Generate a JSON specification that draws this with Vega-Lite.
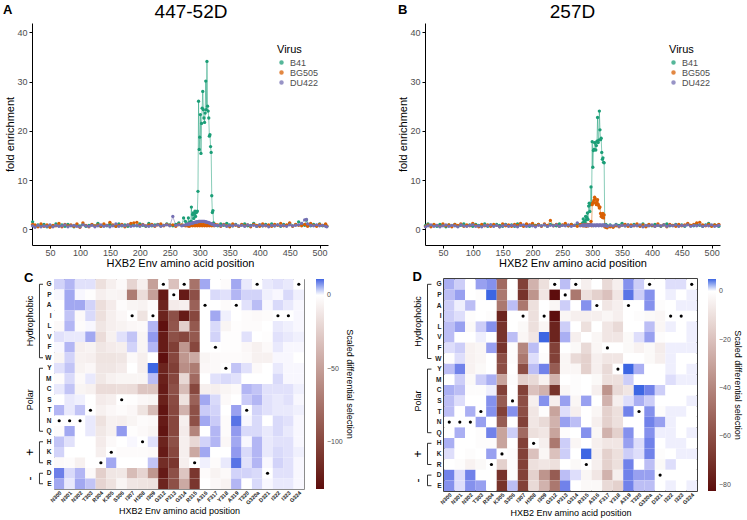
{
"$schema":"https://vega.github.io/schema/vega-lite/v6.json",
"padding":{"left":2,"top":3,"right":0,"bottom":0},
"background":"white",
"config":{"font":"Liberation Sans","view":{"stroke":null},"axis":{"grid":false,"domainColor":"black","tickColor":"black","labelColor":"#4d4d4d","titleColor":"black","titleFontWeight":"normal"}},
"datasets":{
"a":[
{"p":21,"B41":1.5,"BG505":1.0,"DU422":0.7},{"p":25,"B41":0.6,"BG505":0.9,"DU422":0.4},{"p":30,"B41":0.9,"BG505":0.5,"DU422":0.8},{"p":35,"B41":0.7,"BG505":1.1,"DU422":0.5},{"p":40,"B41":1.0,"BG505":0.6,"DU422":0.7},{"p":45,"B41":0.5,"BG505":0.9,"DU422":0.6},{"p":50,"B41":0.8,"BG505":0.4,"DU422":0.9},{"p":55,"B41":0.6,"BG505":0.8,"DU422":0.5},{"p":60,"B41":1.1,"BG505":0.7,"DU422":0.8},{"p":65,"B41":0.7,"BG505":1.2,"DU422":0.6},{"p":70,"B41":0.9,"BG505":0.5,"DU422":0.7},{"p":75,"B41":0.6,"BG505":1.0,"DU422":0.9},{"p":80,"B41":1.0,"BG505":0.7,"DU422":0.5},{"p":85,"B41":0.8,"BG505":0.9,"DU422":0.7},{"p":90,"B41":0.5,"BG505":0.6,"DU422":0.8},{"p":95,"B41":0.9,"BG505":1.1,"DU422":0.6},{"p":100,"B41":0.7,"BG505":0.4,"DU422":0.5},{"p":105,"B41":1.0,"BG505":1.3,"DU422":0.9},{"p":110,"B41":0.6,"BG505":0.8,"DU422":0.7},{"p":115,"B41":0.8,"BG505":0.5,"DU422":0.6},{"p":120,"B41":0.9,"BG505":1.0,"DU422":0.8},{"p":125,"B41":0.7,"BG505":0.7,"DU422":0.5},{"p":130,"B41":1.2,"BG505":0.9,"DU422":0.7},{"p":135,"B41":0.6,"BG505":0.6,"DU422":0.9},{"p":140,"B41":0.9,"BG505":1.1,"DU422":0.6},{"p":145,"B41":0.7,"BG505":0.8,"DU422":0.8},{"p":150,"B41":1.0,"BG505":1.4,"DU422":0.5},{"p":155,"B41":0.8,"BG505":0.9,"DU422":0.7},{"p":160,"B41":0.6,"BG505":0.6,"DU422":1.1},{"p":165,"B41":1.1,"BG505":0.8,"DU422":0.6},{"p":170,"B41":0.7,"BG505":1.0,"DU422":0.8},{"p":175,"B41":0.9,"BG505":0.5,"DU422":0.7},{"p":180,"B41":0.6,"BG505":0.9,"DU422":0.9},{"p":185,"B41":1.0,"BG505":1.2,"DU422":0.6},{"p":190,"B41":0.8,"BG505":1.3,"DU422":0.7},{"p":195,"B41":0.7,"BG505":1.4,"DU422":0.8},{"p":200,"B41":1.1,"BG505":0.8,"DU422":0.6},{"p":205,"B41":0.8,"BG505":1.0,"DU422":0.9},{"p":210,"B41":0.6,"BG505":0.7,"DU422":0.7},{"p":215,"B41":1.2,"BG505":0.9,"DU422":0.6},{"p":220,"B41":0.7,"BG505":1.0,"DU422":0.8},{"p":225,"B41":0.9,"BG505":0.6,"DU422":0.7},{"p":230,"B41":1.0,"BG505":0.9,"DU422":0.9},{"p":235,"B41":0.7,"BG505":1.1,"DU422":0.6},{"p":240,"B41":0.8,"BG505":0.7,"DU422":0.8},{"p":245,"B41":1.1,"BG505":1.0,"DU422":0.9},{"p":250,"B41":0.9,"BG505":0.8,"DU422":0.7},{"p":255,"B41":0.7,"BG505":0.9,"DU422":2.6},{"p":260,"B41":1.0,"BG505":0.6,"DU422":0.8},{"p":265,"B41":1.3,"BG505":1.0,"DU422":0.9},{"p":270,"B41":0.8,"BG505":0.9,"DU422":0.7},{"p":273,"B41":2.3,"BG505":0.8,"DU422":0.8},{"p":276,"B41":1.6,"BG505":0.7,"DU422":0.9},
{"p":278,"B41":1.1,"BG505":0.9,"DU422":0.9},{"p":279,"B41":0.9,"BG505":0.7,"DU422":1.0},{"p":280,"B41":1.0,"BG505":1.0,"DU422":1.0},{"p":281,"B41":2.3,"BG505":0.8,"DU422":1.0},{"p":282,"B41":1.2,"BG505":0.6,"DU422":1.1},{"p":283,"B41":1.4,"BG505":0.9,"DU422":1.1},{"p":284,"B41":1.0,"BG505":0.7,"DU422":1.1},{"p":285,"B41":1.6,"BG505":1.0,"DU422":1.2},{"p":286,"B41":4.5,"BG505":0.8,"DU422":1.2},{"p":287,"B41":1.4,"BG505":0.9,"DU422":1.2},{"p":288,"B41":3.0,"BG505":0.7,"DU422":1.3},{"p":289,"B41":3.3,"BG505":1.0,"DU422":1.3},{"p":290,"B41":2.2,"BG505":0.8,"DU422":1.3},{"p":291,"B41":3.1,"BG505":0.9,"DU422":1.4},{"p":292,"B41":3.7,"BG505":0.7,"DU422":1.4},{"p":293,"B41":2.6,"BG505":1.0,"DU422":1.4},{"p":294,"B41":3.4,"BG505":0.8,"DU422":1.5},{"p":295,"B41":3.5,"BG505":0.9,"DU422":1.5},{"p":296,"B41":3.7,"BG505":0.7,"DU422":1.5},{"p":297,"B41":7.7,"BG505":0.8,"DU422":1.5},{"p":298,"B41":26.0,"BG505":1.0,"DU422":1.6},{"p":299,"B41":16.2,"BG505":0.9,"DU422":1.6},{"p":300,"B41":18.7,"BG505":0.7,"DU422":1.6},{"p":301,"B41":23.3,"BG505":0.8,"DU422":1.6},{"p":302,"B41":15.4,"BG505":1.0,"DU422":1.6},{"p":303,"B41":21.5,"BG505":0.9,"DU422":1.6},{"p":304,"B41":24.6,"BG505":0.7,"DU422":1.6},{"p":305,"B41":28.0,"BG505":0.8,"DU422":1.6},{"p":306,"B41":24.3,"BG505":1.0,"DU422":1.6},{"p":307,"B41":22.6,"BG505":0.9,"DU422":1.6},{"p":308,"B41":21.7,"BG505":0.7,"DU422":1.6},{"p":309,"B41":23.6,"BG505":0.8,"DU422":1.5},{"p":310,"B41":30.1,"BG505":1.0,"DU422":1.5},{"p":311,"B41":24.3,"BG505":0.9,"DU422":1.5},{"p":312,"B41":34.1,"BG505":0.7,"DU422":1.4},{"p":313,"B41":25.0,"BG505":0.8,"DU422":1.4},{"p":314,"B41":24.0,"BG505":1.0,"DU422":1.4},{"p":315,"B41":22.6,"BG505":0.9,"DU422":1.3},{"p":316,"B41":18.9,"BG505":0.7,"DU422":1.3},{"p":317,"B41":19.2,"BG505":0.8,"DU422":1.2},{"p":318,"B41":16.8,"BG505":1.0,"DU422":1.2},{"p":319,"B41":15.6,"BG505":0.9,"DU422":1.1},{"p":320,"B41":6.8,"BG505":0.7,"DU422":1.1},{"p":321,"B41":3.4,"BG505":0.8,"DU422":1.0},{"p":322,"B41":3.8,"BG505":1.0,"DU422":1.0},{"p":323,"B41":1.3,"BG505":0.9,"DU422":0.9},{"p":324,"B41":0.9,"BG505":0.7,"DU422":0.9},{"p":325,"B41":1.0,"BG505":0.8,"DU422":0.8},{"p":326,"B41":0.8,"BG505":1.0,"DU422":0.8},
{"p":330,"B41":0.7,"BG505":0.9,"DU422":0.8},{"p":335,"B41":1.1,"BG505":0.6,"DU422":0.7},{"p":340,"B41":0.8,"BG505":1.0,"DU422":0.9},{"p":345,"B41":1.2,"BG505":0.7,"DU422":0.6},{"p":350,"B41":0.9,"BG505":0.5,"DU422":0.8},{"p":355,"B41":0.7,"BG505":1.1,"DU422":0.7},{"p":360,"B41":1.0,"BG505":0.8,"DU422":0.9},{"p":365,"B41":0.6,"BG505":0.6,"DU422":0.7},{"p":370,"B41":0.9,"BG505":1.0,"DU422":0.8},{"p":375,"B41":1.1,"BG505":0.7,"DU422":0.6},{"p":380,"B41":0.7,"BG505":0.9,"DU422":0.9},{"p":385,"B41":0.8,"BG505":0.5,"DU422":0.7},{"p":390,"B41":1.2,"BG505":1.0,"DU422":0.8},{"p":395,"B41":0.6,"BG505":0.8,"DU422":0.6},{"p":400,"B41":0.9,"BG505":0.6,"DU422":0.9},{"p":405,"B41":0.7,"BG505":1.1,"DU422":0.7},{"p":410,"B41":1.0,"BG505":0.7,"DU422":0.8},{"p":415,"B41":0.8,"BG505":0.9,"DU422":0.5},{"p":420,"B41":1.1,"BG505":0.6,"DU422":0.8},{"p":425,"B41":0.7,"BG505":1.0,"DU422":0.7},{"p":430,"B41":0.9,"BG505":0.8,"DU422":0.9},{"p":435,"B41":0.6,"BG505":1.2,"DU422":0.7},{"p":440,"B41":1.0,"BG505":0.7,"DU422":0.8},{"p":445,"B41":0.8,"BG505":0.9,"DU422":0.6},{"p":450,"B41":1.2,"BG505":1.3,"DU422":0.9},{"p":455,"B41":0.7,"BG505":0.6,"DU422":0.7},{"p":460,"B41":0.9,"BG505":1.0,"DU422":0.8},{"p":465,"B41":1.5,"BG505":0.8,"DU422":0.9},{"p":470,"B41":1.1,"BG505":0.7,"DU422":1.2},{"p":475,"B41":0.8,"BG505":1.0,"DU422":1.9},{"p":478,"B41":1.9,"BG505":0.9,"DU422":2.0},{"p":480,"B41":0.9,"BG505":0.6,"DU422":1.1},{"p":485,"B41":0.7,"BG505":1.2,"DU422":0.8},{"p":490,"B41":1.0,"BG505":0.8,"DU422":0.7},{"p":495,"B41":0.8,"BG505":0.6,"DU422":0.9},{"p":500,"B41":1.1,"BG505":1.0,"DU422":0.7},{"p":505,"B41":0.7,"BG505":0.8,"DU422":0.8},{"p":510,"B41":0.9,"BG505":1.1,"DU422":0.6},{"p":512,"B41":0.6,"BG505":0.7,"DU422":0.5}
],
"b":[
{"p":21,"B41":0.8,"BG505":0.6,"DU422":0.5},{"p":25,"B41":1.1,"BG505":0.9,"DU422":0.7},{"p":30,"B41":0.7,"BG505":0.5,"DU422":0.9},{"p":35,"B41":0.9,"BG505":1.0,"DU422":0.6},{"p":40,"B41":0.6,"BG505":0.8,"DU422":0.8},{"p":45,"B41":1.0,"BG505":0.6,"DU422":0.5},{"p":50,"B41":0.8,"BG505":1.1,"DU422":0.7},{"p":55,"B41":0.5,"BG505":0.7,"DU422":0.9},{"p":60,"B41":0.9,"BG505":0.9,"DU422":0.6},{"p":65,"B41":0.7,"BG505":0.5,"DU422":0.8},{"p":70,"B41":1.0,"BG505":1.0,"DU422":0.7},{"p":75,"B41":0.6,"BG505":0.8,"DU422":0.5},{"p":80,"B41":0.8,"BG505":1.1,"DU422":0.9},{"p":85,"B41":1.1,"BG505":0.6,"DU422":0.7},{"p":90,"B41":0.7,"BG505":0.9,"DU422":0.6},{"p":95,"B41":0.9,"BG505":0.7,"DU422":0.8},{"p":100,"B41":0.6,"BG505":1.2,"DU422":0.9},{"p":105,"B41":1.0,"BG505":0.8,"DU422":0.6},{"p":110,"B41":0.8,"BG505":0.5,"DU422":0.7},{"p":115,"B41":0.7,"BG505":1.0,"DU422":0.5},{"p":120,"B41":1.1,"BG505":0.7,"DU422":0.8},{"p":125,"B41":0.6,"BG505":0.9,"DU422":0.7},{"p":130,"B41":0.9,"BG505":0.6,"DU422":0.9},{"p":135,"B41":0.7,"BG505":1.0,"DU422":0.6},{"p":140,"B41":1.0,"BG505":0.8,"DU422":0.8},{"p":145,"B41":0.8,"BG505":0.5,"DU422":0.5},{"p":150,"B41":0.6,"BG505":1.1,"DU422":0.7},{"p":155,"B41":1.0,"BG505":0.7,"DU422":0.9},{"p":160,"B41":0.7,"BG505":0.9,"DU422":0.6},{"p":165,"B41":0.9,"BG505":0.6,"DU422":0.8},{"p":170,"B41":0.6,"BG505":1.0,"DU422":0.7},{"p":175,"B41":1.1,"BG505":0.8,"DU422":0.5},{"p":180,"B41":0.8,"BG505":1.2,"DU422":0.8},{"p":185,"B41":0.7,"BG505":0.6,"DU422":0.9},{"p":190,"B41":1.0,"BG505":1.1,"DU422":0.6},{"p":195,"B41":0.6,"BG505":0.9,"DU422":0.8},{"p":200,"B41":0.9,"BG505":1.2,"DU422":0.7},{"p":205,"B41":0.8,"BG505":0.7,"DU422":0.5},{"p":210,"B41":1.0,"BG505":1.0,"DU422":0.8},{"p":215,"B41":0.7,"BG505":0.6,"DU422":0.7},{"p":220,"B41":0.9,"BG505":1.1,"DU422":0.9},{"p":225,"B41":0.6,"BG505":0.8,"DU422":0.6},{"p":230,"B41":1.0,"BG505":1.8,"DU422":0.8},{"p":235,"B41":0.8,"BG505":0.7,"DU422":0.7},{"p":240,"B41":0.7,"BG505":1.0,"DU422":0.9},{"p":245,"B41":1.1,"BG505":0.6,"DU422":0.6},{"p":250,"B41":0.8,"BG505":0.9,"DU422":0.8},{"p":255,"B41":0.9,"BG505":1.2,"DU422":0.7},{"p":260,"B41":0.7,"BG505":0.7,"DU422":0.9},{"p":265,"B41":1.0,"BG505":1.0,"DU422":0.6},{"p":270,"B41":0.8,"BG505":0.8,"DU422":0.8},{"p":275,"B41":1.1,"BG505":0.6,"DU422":1.3},{"p":280,"B41":0.9,"BG505":1.0,"DU422":0.7},
{"p":283,"B41":1.0,"BG505":0.9,"DU422":0.8},{"p":284,"B41":1.3,"BG505":0.7,"DU422":0.9},{"p":285,"B41":2.1,"BG505":0.9,"DU422":0.8},{"p":286,"B41":1.2,"BG505":0.7,"DU422":0.9},{"p":287,"B41":1.6,"BG505":1.0,"DU422":0.7},{"p":288,"B41":1.4,"BG505":0.8,"DU422":0.8},{"p":289,"B41":2.6,"BG505":0.9,"DU422":0.9},{"p":290,"B41":1.9,"BG505":0.6,"DU422":0.7},{"p":291,"B41":2.4,"BG505":0.8,"DU422":0.8},{"p":292,"B41":3.3,"BG505":1.0,"DU422":0.9},{"p":293,"B41":2.0,"BG505":0.7,"DU422":0.8},{"p":294,"B41":4.7,"BG505":0.9,"DU422":0.7},{"p":295,"B41":5.3,"BG505":0.8,"DU422":0.9},{"p":296,"B41":3.6,"BG505":1.0,"DU422":0.8},{"p":297,"B41":5.0,"BG505":0.9,"DU422":0.9},{"p":298,"B41":8.6,"BG505":1.6,"DU422":0.8},{"p":299,"B41":5.2,"BG505":0.7,"DU422":0.9},{"p":300,"B41":17.8,"BG505":5.0,"DU422":0.8},{"p":301,"B41":12.6,"BG505":5.3,"DU422":0.9},{"p":302,"B41":16.0,"BG505":5.5,"DU422":0.7},{"p":303,"B41":16.2,"BG505":5.9,"DU422":0.8},{"p":304,"B41":17.6,"BG505":6.5,"DU422":0.9},{"p":305,"B41":17.5,"BG505":6.2,"DU422":0.8},{"p":306,"B41":16.1,"BG505":5.3,"DU422":0.7},{"p":307,"B41":17.0,"BG505":5.0,"DU422":0.9},{"p":308,"B41":17.9,"BG505":5.6,"DU422":0.8},{"p":309,"B41":22.7,"BG505":6.0,"DU422":0.9},{"p":310,"B41":17.6,"BG505":5.1,"DU422":0.8},{"p":311,"B41":18.1,"BG505":4.7,"DU422":0.7},{"p":312,"B41":24.0,"BG505":4.3,"DU422":0.9},{"p":313,"B41":20.2,"BG505":4.5,"DU422":0.8},{"p":314,"B41":18.2,"BG505":3.2,"DU422":0.9},{"p":315,"B41":18.5,"BG505":2.6,"DU422":0.8},{"p":316,"B41":15.6,"BG505":2.9,"DU422":0.7},{"p":317,"B41":14.2,"BG505":2.4,"DU422":0.9},{"p":318,"B41":14.5,"BG505":3.2,"DU422":0.8},{"p":319,"B41":13.6,"BG505":2.3,"DU422":0.9},{"p":320,"B41":13.5,"BG505":2.9,"DU422":0.8},{"p":321,"B41":0.9,"BG505":0.5,"DU422":0.7},{"p":322,"B41":0.8,"BG505":0.7,"DU422":0.9},{"p":323,"B41":1.0,"BG505":0.4,"DU422":0.8},
{"p":325,"B41":0.7,"BG505":0.3,"DU422":0.6},{"p":330,"B41":0.9,"BG505":0.5,"DU422":0.8},{"p":335,"B41":0.6,"BG505":0.4,"DU422":0.7},{"p":340,"B41":1.0,"BG505":0.7,"DU422":0.9},{"p":345,"B41":0.8,"BG505":0.5,"DU422":0.6},{"p":350,"B41":1.2,"BG505":0.8,"DU422":0.8},{"p":355,"B41":0.7,"BG505":1.0,"DU422":0.7},{"p":360,"B41":0.9,"BG505":0.6,"DU422":0.9},{"p":365,"B41":0.6,"BG505":0.9,"DU422":0.6},{"p":370,"B41":1.0,"BG505":0.7,"DU422":0.8},{"p":375,"B41":0.8,"BG505":1.1,"DU422":0.7},{"p":380,"B41":0.7,"BG505":0.6,"DU422":0.9},{"p":385,"B41":1.1,"BG505":0.9,"DU422":0.5},{"p":390,"B41":0.6,"BG505":0.5,"DU422":0.8},{"p":395,"B41":0.9,"BG505":1.0,"DU422":0.7},{"p":400,"B41":0.7,"BG505":0.8,"DU422":0.9},{"p":405,"B41":1.0,"BG505":0.6,"DU422":0.6},{"p":410,"B41":0.8,"BG505":1.1,"DU422":0.8},{"p":415,"B41":0.6,"BG505":0.7,"DU422":0.7},{"p":420,"B41":0.9,"BG505":0.9,"DU422":0.9},{"p":425,"B41":1.1,"BG505":0.5,"DU422":0.6},{"p":430,"B41":0.7,"BG505":1.0,"DU422":0.8},{"p":435,"B41":0.8,"BG505":0.8,"DU422":0.7},{"p":440,"B41":1.0,"BG505":0.6,"DU422":0.9},{"p":445,"B41":0.7,"BG505":1.0,"DU422":0.6},{"p":450,"B41":0.9,"BG505":0.7,"DU422":0.8},{"p":455,"B41":0.6,"BG505":0.9,"DU422":0.7},{"p":460,"B41":1.0,"BG505":1.2,"DU422":0.9},{"p":465,"B41":0.8,"BG505":0.8,"DU422":0.6},{"p":470,"B41":0.7,"BG505":1.0,"DU422":0.8},{"p":475,"B41":1.1,"BG505":1.3,"DU422":0.7},{"p":480,"B41":0.8,"BG505":1.4,"DU422":0.9},{"p":485,"B41":0.6,"BG505":0.9,"DU422":0.6},{"p":490,"B41":0.9,"BG505":0.7,"DU422":0.8},{"p":495,"B41":1.2,"BG505":1.0,"DU422":0.7},{"p":500,"B41":0.7,"BG505":0.6,"DU422":0.9},{"p":505,"B41":0.9,"BG505":0.9,"DU422":0.6},{"p":510,"B41":0.8,"BG505":0.8,"DU422":0.7},{"p":512,"B41":0.6,"BG505":1.0,"DU422":0.8}
],
"hc":[
{"site":"N300","wt":"N","G":3,"P":0.5,"A":0,"I":0,"L":-3,"V":2,"F":0.5,"W":-5,"Y":2,"M":-2,"C":1.5,"S":0,"T":5,"N":0,"Q":-2,"H":4,"K":3,"R":-3,"D":9,"E":6},
{"site":"N301","wt":"N","G":5,"P":6,"A":6,"I":4,"L":5,"V":1.5,"F":5,"W":3,"Y":4,"M":2.5,"C":4,"S":1.5,"T":1.5,"N":0,"Q":6,"H":2,"K":0,"R":-2,"D":2.5,"E":1.5},
{"site":"N302","wt":"N","G":2,"P":0.5,"A":6,"I":-3,"L":-2,"V":1.5,"F":-8,"W":-7,"Y":-6,"M":-3,"C":-5,"S":1,"T":4,"N":0,"Q":0,"H":0,"K":0,"R":-7,"D":5,"E":6},
{"site":"T303","wt":"T","G":2,"P":-1,"A":3,"I":2.5,"L":0.5,"V":6,"F":-6,"W":-8,"Y":-4,"M":1.5,"C":-7,"S":0,"T":0,"N":1.5,"Q":1.5,"H":0,"K":0,"R":0,"D":-3,"E":4},
{"site":"R304","wt":"R","G":-16,"P":-8,"A":-17,"I":-16,"L":-13,"V":-18,"F":-13,"W":-14,"Y":-13,"M":-12,"C":-18,"S":-10,"T":-7,"N":-15,"Q":-12,"H":-10,"K":-8,"R":0,"D":-25,"E":-22},
{"site":"K305","wt":"K","G":-8,"P":-5,"A":-10,"I":-8,"L":-8,"V":-7,"F":-10,"W":-14,"Y":-13,"M":-7,"C":-18,"S":-8,"T":-4,"N":-7,"Q":-7,"H":-3,"K":0,"R":6,"D":-13,"E":-15},
{"site":"S306","wt":"S","G":-3,"P":-6,"A":-2,"I":-4,"L":-6,"V":2,"F":-8,"W":-13,"Y":-10,"M":-5,"C":-17,"S":0,"T":-2,"N":-8,"Q":7,"H":0,"K":-2,"R":0,"D":-12,"E":-5},
{"site":"I307","wt":"I","G":-22,"P":-70,"A":-5,"I":0,"L":-4,"V":4,"F":3,"W":-3,"Y":0,"M":-5,"C":-18,"S":-1,"T":-4,"N":-5,"Q":-1,"H":0.5,"K":-2,"R":0,"D":-35,"E":-13},
{"site":"H308","wt":"H","G":-8,"P":-18,"A":-6,"I":-14,"L":-3,"V":-5,"F":-5,"W":-8,"Y":-8,"M":-5,"C":-30,"S":-4,"T":-14,"N":-2,"Q":-3,"H":0,"K":-2,"R":0,"D":-22,"E":-14},
{"site":"I309","wt":"I","G":-50,"P":-50,"A":-2,"I":0,"L":5,"V":7,"F":5,"W":0,"Y":11,"M":4.5,"C":-30,"S":-5,"T":-35,"N":-3,"Q":-5,"H":2,"K":-3,"R":4,"D":-55,"E":-15},
{"site":"G312","wt":"G","G":0,"P":-125,"A":-120,"I":-120,"L":-130,"V":-125,"F":-125,"W":-130,"Y":-120,"M":-122,"C":-125,"S":-122,"T":-128,"N":-125,"Q":-128,"H":-120,"K":-125,"R":-115,"D":-125,"E":-120},
{"site":"P313","wt":"P","G":-32,"P":0,"A":-10,"I":-95,"L":-92,"V":-95,"F":-105,"W":-100,"Y":-105,"M":-100,"C":-95,"S":-98,"T":-100,"N":-100,"Q":-100,"H":-95,"K":-100,"R":-110,"D":-95,"E":-95},
{"site":"G314","wt":"G","G":0,"P":-125,"A":-8,"I":-125,"L":-25,"V":-100,"F":-55,"W":-55,"Y":-60,"M":-20,"C":-35,"S":-15,"T":-40,"N":-8,"Q":-10,"H":-8,"K":-8,"R":-8,"D":-30,"E":-45},
{"site":"R315","wt":"R","G":-75,"P":-95,"A":-85,"I":-100,"L":-90,"V":-90,"F":-100,"W":-45,"Y":-70,"M":-80,"C":-100,"S":-85,"T":-95,"N":-95,"Q":-65,"H":-20,"K":-45,"R":0,"D":-110,"E":-110},
{"site":"A316","wt":"A","G":6,"P":0,"A":0,"I":0,"L":0,"V":0,"F":0,"W":-5,"Y":-4,"M":0,"C":-8,"S":6,"T":3.5,"N":6,"Q":0,"H":3,"K":6,"R":1,"D":-2,"E":0},
{"site":"F317","wt":"F","G":0,"P":2.5,"A":0,"I":6,"L":2.5,"V":3,"F":0,"W":-3,"Y":-3,"M":2,"C":-8,"S":2.5,"T":3,"N":3.5,"Q":5,"H":5,"K":0,"R":-2,"D":-6,"E":-4},
{"site":"Y318","wt":"Y","G":-2,"P":2,"A":-2,"I":1,"L":-5,"V":-1,"F":-1,"W":-2,"Y":0,"M":2.5,"C":-5,"S":-3,"T":0,"N":-2,"Q":-2,"H":-4,"K":0,"R":1.5,"D":-3,"E":-6},
{"site":"A319","wt":"A","G":6,"P":5,"A":0,"I":0,"L":-1,"V":-1,"F":-1,"W":-2,"Y":4,"M":2,"C":-3,"S":0,"T":6.5,"N":10,"Q":7,"H":6,"K":7,"R":10,"D":3,"E":5},
{"site":"T320","wt":"T","G":1.5,"P":3,"A":2,"I":-2,"L":-2,"V":2,"F":-4,"W":-3,"Y":2,"M":0,"C":5,"S":3.5,"T":0,"N":0.5,"Q":2.5,"H":0.5,"K":2.5,"R":2,"D":3,"E":0},
{"site":"G320a","wt":"G","G":0,"P":3,"A":4.5,"I":-3,"L":-2,"V":0,"F":-7,"W":-7,"Y":-3,"M":0,"C":4,"S":5,"T":3,"N":2.5,"Q":2.5,"H":5,"K":5,"R":5,"D":2.5,"E":2.5},
{"site":"D321","wt":"D","G":1.5,"P":1,"A":0.5,"I":-2,"L":0,"V":-1,"F":-3,"W":-7,"Y":0,"M":0,"C":2,"S":2,"T":2,"N":0,"Q":1.5,"H":1.5,"K":1.5,"R":0.5,"D":0,"E":0.5},
{"site":"I322","wt":"I","G":2,"P":0.5,"A":2.5,"I":0,"L":1.5,"V":2,"F":1.5,"W":0.5,"Y":1.5,"M":2.5,"C":2,"S":1.5,"T":1.5,"N":2.5,"Q":2.5,"H":2,"K":2.5,"R":3,"D":2,"E":1.5},
{"site":"I323","wt":"I","G":1.5,"P":2.5,"A":1.5,"I":0,"L":1,"V":1.5,"F":0.5,"W":0.5,"Y":0.5,"M":0.5,"C":2,"S":2,"T":1.5,"N":2,"Q":1.5,"H":2,"K":2,"R":2,"D":2,"E":1.5},
{"site":"G324","wt":"G","G":0,"P":1,"A":0.5,"I":0.5,"L":0.5,"V":1,"F":0.5,"W":0,"Y":0.5,"M":0.5,"C":1,"S":0.5,"T":1,"N":0.5,"Q":0.5,"H":0.5,"K":1,"R":0.5,"D":0.5,"E":0.5}
],
"hd":[
{"site":"N300","wt":"N","G":2.5,"P":2,"A":1.5,"I":1.5,"L":2,"V":2,"F":1,"W":-0.5,"Y":2,"M":0,"C":2.5,"S":2,"T":2,"N":0,"Q":0,"H":2.5,"K":1,"R":0,"D":4,"E":3.5},
{"site":"N301","wt":"N","G":1.5,"P":3,"A":0.5,"I":1,"L":3,"V":0,"F":1.5,"W":1,"Y":4,"M":1.5,"C":2,"S":1,"T":0,"N":0,"Q":2.5,"H":0,"K":0,"R":-1,"D":1,"E":1},
{"site":"N302","wt":"N","G":0,"P":0,"A":2,"I":-1,"L":-2,"V":0,"F":-4,"W":-4,"Y":-4,"M":-2,"C":-1,"S":0,"T":2.5,"N":0,"Q":0,"H":0,"K":-1,"R":-4,"D":4,"E":3.5},
{"site":"T303","wt":"T","G":3,"P":-1,"A":0,"I":0,"L":1.5,"V":0.5,"F":-3,"W":-3,"Y":-2,"M":1.5,"C":-1,"S":0,"T":0,"N":3,"Q":-1,"H":-1,"K":0,"R":-2,"D":0,"E":3},
{"site":"R304","wt":"R","G":3.5,"P":5,"A":0,"I":-1,"L":3.5,"V":0,"F":3,"W":0,"Y":0,"M":2.5,"C":0.5,"S":3.5,"T":3.5,"N":0,"Q":4,"H":-1,"K":3,"R":0,"D":0,"E":0},
{"site":"K305","wt":"K","G":-50,"P":-45,"A":-45,"I":-75,"L":-70,"V":-70,"F":-70,"W":-60,"Y":-60,"M":-30,"C":-65,"S":-55,"T":-65,"N":-55,"Q":-30,"H":-30,"K":0,"R":-15,"D":-70,"E":-70},
{"site":"S306","wt":"S","G":0,"P":-1,"A":2,"I":0,"L":0,"V":2,"F":-1,"W":-1,"Y":0,"M":-1,"C":0,"S":0,"T":3.5,"N":0,"Q":1.5,"H":0,"K":-1,"R":-1,"D":-1,"E":2},
{"site":"I307","wt":"I","G":-65,"P":-70,"A":-45,"I":0,"L":-2,"V":-3,"F":-40,"W":-45,"Y":-60,"M":-15,"C":-65,"S":-60,"T":-60,"N":-65,"Q":-50,"H":-65,"K":-65,"R":-65,"D":-65,"E":-65},
{"site":"H308","wt":"H","G":-25,"P":-35,"A":-10,"I":-10,"L":-10,"V":-8,"F":2,"W":1,"Y":2,"M":-12,"C":-20,"S":-5,"T":-8,"N":-8,"Q":-10,"H":0,"K":-20,"R":-10,"D":-15,"E":-12},
{"site":"I309","wt":"I","G":-10,"P":-8,"A":0,"I":0,"L":-3,"V":5,"F":0,"W":-1,"Y":4,"M":-4,"C":-25,"S":3.5,"T":-1,"N":-12,"Q":-8,"H":-5,"K":-3,"R":-8,"D":-35,"E":-25},
{"site":"G312","wt":"G","G":0,"P":-82,"A":-3,"I":-82,"L":-75,"V":-75,"F":-65,"W":-65,"Y":-55,"M":-25,"C":-70,"S":-5,"T":-30,"N":-25,"Q":-30,"H":-45,"K":-20,"R":-10,"D":-55,"E":-45},
{"site":"P313","wt":"P","G":2,"P":0,"A":1.5,"I":-3,"L":1.5,"V":2.5,"F":0,"W":-3,"Y":-3,"M":0,"C":-3,"S":3,"T":1,"N":3,"Q":-1,"H":1.5,"K":1.5,"R":0,"D":2,"E":4},
{"site":"G314","wt":"G","G":0,"P":-45,"A":0,"I":-5,"L":0,"V":-5,"F":-2,"W":-12,"Y":-3,"M":-1,"C":-1,"S":-3,"T":-5,"N":2,"Q":0,"H":-3,"K":0,"R":-2,"D":1,"E":0},
{"site":"R315","wt":"R","G":-5,"P":-10,"A":3.5,"I":-5,"L":-10,"V":0,"F":-12,"W":-15,"Y":-15,"M":0,"C":0,"S":3,"T":0,"N":0,"Q":3.5,"H":0,"K":5,"R":0,"D":-3,"E":-2},
{"site":"A316","wt":"A","G":0,"P":-15,"A":0,"I":-5,"L":0,"V":-3,"F":-3,"W":-5,"Y":-5,"M":-2,"C":-5,"S":0,"T":-3,"N":-5,"Q":-3,"H":-5,"K":-5,"R":-5,"D":-8,"E":-2},
{"site":"F317","wt":"F","G":-12,"P":-20,"A":-8,"I":-3,"L":-8,"V":-8,"F":0,"W":-8,"Y":-12,"M":-10,"C":-35,"S":-25,"T":-15,"N":-15,"Q":-25,"H":-8,"K":-15,"R":-15,"D":-25,"E":-12},
{"site":"Y318","wt":"Y","G":-5,"P":-8,"A":-5,"I":-5,"L":-12,"V":-8,"F":0,"W":-8,"Y":0,"M":-10,"C":-12,"S":-5,"T":-10,"N":-10,"Q":-15,"H":-8,"K":-10,"R":-10,"D":-5,"E":-15},
{"site":"A319","wt":"A","G":3.5,"P":4.5,"A":0,"I":0,"L":0,"V":-2,"F":-2,"W":0,"Y":5,"M":1.5,"C":-8,"S":1,"T":4,"N":0,"Q":3.5,"H":3,"K":1.5,"R":4,"D":4,"E":4},
{"site":"T320","wt":"T","G":1.5,"P":1.5,"A":0,"I":-1,"L":0,"V":1,"F":-4,"W":0,"Y":2.5,"M":0,"C":5,"S":2.5,"T":0,"N":0,"Q":0,"H":1,"K":1,"R":0,"D":3,"E":2},
{"site":"G320a","wt":"G","G":0,"P":3.5,"A":3.5,"I":-2,"L":2,"V":3,"F":-2,"W":-2,"Y":0,"M":0,"C":4,"S":1.5,"T":3.5,"N":4,"Q":3.5,"H":4,"K":4,"R":2,"D":3,"E":2},
{"site":"D321","wt":"D","G":0,"P":0,"A":-1,"I":-3,"L":-3,"V":-1,"F":-6,"W":-5,"Y":0,"M":0,"C":1.5,"S":0,"T":-1,"N":3,"Q":0.5,"H":0,"K":-1,"R":-2,"D":0,"E":0},
{"site":"I322","wt":"I","G":1,"P":0.5,"A":0,"I":0,"L":0.5,"V":0,"F":0.5,"W":0.5,"Y":0.5,"M":1,"C":0,"S":0,"T":0.5,"N":0.5,"Q":0.5,"H":0.5,"K":0,"R":1,"D":0,"E":0.5},
{"site":"I323","wt":"I","G":1,"P":0,"A":0.5,"I":0,"L":0,"V":0,"F":0.5,"W":0,"Y":0,"M":0.5,"C":0,"S":0,"T":0.5,"N":0,"Q":0,"H":0.5,"K":0.5,"R":0,"D":0,"E":0},
{"site":"G324","wt":"G","G":0,"P":0.5,"A":0.5,"I":0,"L":0.5,"V":0.5,"F":0.5,"W":0,"Y":0.5,"M":0.5,"C":0,"S":0.5,"T":0,"N":0,"Q":0.5,"H":0,"K":0.5,"R":0,"D":0,"E":0.5}
],
"grp":[{"g":"Hydrophobic","top":"G","bot":"W","mid":"L"},{"g":"Polar","top":"Y","bot":"Q","mid":"S"},{"g":"+","top":"H","bot":"R","mid":"K"},{"g":"-","top":"D","bot":"E","mid":"E"}]
},
"concat":[
{"hconcat":[
{"title":{"text":"A","anchor":"start","fontSize":13,"fontWeight":"bold","offset":-14,"dx":-2,"color":"black"},
"hconcat":[
{"title":{"text":"447-52D","fontSize":19,"fontWeight":"normal","anchor":"middle","dx":11,"offset":1,"color":"black"},
"width":296,"height":222,
"data":{"name":"a"},
"transform":[{"fold":["B41","BG505","DU422"],"as":["Virus","fe"]}],
"encoding":{
"x":{"field":"p","type":"quantitative","scale":{"domain":[20,514],"nice":false,"zero":false},"axis":{"values":[50,100,150,200,250,300,350,400,450,500],"title":"HXB2 Env amino acid position","labelFontSize":9,"titleFontSize":11,"tickSize":3,"labelPadding":0,"titlePadding":0}},
"y":{"field":"fe","type":"quantitative","scale":{"domain":[-3.2,41.9],"nice":false,"zero":false},"axis":{"values":[0,10,20,30,40],"title":"fold enrichment","labelFontSize":9,"titleFontSize":11,"tickSize":3,"labelPadding":2,"titlePadding":1}},
"color":{"field":"Virus","type":"nominal","scale":{"domain":["B41","BG505","DU422"],"range":["#1B9E77","#D95F02","#7570B3"]},"legend":{"title":"Virus","orient":"none","legendX":245,"legendY":21,"titleFontSize":11,"titleFontWeight":"normal","titleColor":"black","labelFontSize":9,"labelColor":"#4d4d4d","symbolType":"circle","symbolSize":9,"symbolStrokeWidth":1.5,"rowPadding":-4,"titlePadding":3}}
},
"layer":[
{"mark":{"type":"line","strokeWidth":0.7,"opacity":0.75}},
{"mark":{"type":"circle","size":11,"opacity":1},"encoding":{"order":{"field":"Virus","type":"ordinal"}}}
]}
]},
{"title":{"text":"B","anchor":"start","fontSize":13,"fontWeight":"bold","offset":-14,"color":"black"},
"hconcat":[
{"title":{"text":"257D","fontSize":19,"fontWeight":"normal","anchor":"middle","offset":1,"color":"black"},
"width":295,"height":222,
"data":{"name":"b"},
"transform":[{"fold":["B41","BG505","DU422"],"as":["Virus","fe"]}],
"encoding":{
"x":{"field":"p","type":"quantitative","scale":{"domain":[20,514],"nice":false,"zero":false},"axis":{"values":[50,100,150,200,250,300,350,400,450,500],"title":"HXB2 Env amino acid position","labelFontSize":9,"titleFontSize":11,"tickSize":3,"labelPadding":0,"titlePadding":0}},
"y":{"field":"fe","type":"quantitative","scale":{"domain":[-3.2,41.9],"nice":false,"zero":false},"axis":{"values":[0,10,20,30,40],"title":"fold enrichment","labelFontSize":9,"titleFontSize":11,"tickSize":3,"labelPadding":2,"titlePadding":1}},
"color":{"field":"Virus","type":"nominal","scale":{"domain":["B41","BG505","DU422"],"range":["#1B9E77","#D95F02","#7570B3"]},"legend":{"title":"Virus","orient":"none","legendX":244,"legendY":21,"titleFontSize":11,"titleFontWeight":"normal","titleColor":"black","labelFontSize":9,"labelColor":"#4d4d4d","symbolType":"circle","symbolSize":9,"symbolStrokeWidth":1.5,"rowPadding":-4,"titlePadding":3}}
},
"layer":[
{"mark":{"type":"line","strokeWidth":0.7,"opacity":0.75}},
{"mark":{"type":"circle","size":11,"opacity":1},"encoding":{"order":{"field":"Virus","type":"ordinal"}}}
]}
]}
],"spacing":68,"resolve":{"scale":{"x":"independent","y":"independent","color":"independent"}}},
{"hconcat":[
{"title":{"text":"C","anchor":"start","fontSize":13,"fontWeight":"bold","offset":-6,"color":"black"},
"bounds":"flush",
"hconcat":[
{"width":22,"height":210,"data":{"name":"grp"},
"layer":[
{"mark":{"type":"rule","color":"black","strokeWidth":0.8},"encoding":{"x":{"datum":0.34,"type":"quantitative","scale":{"domain":[0,1]},"axis":null},"y":{"field":"top","type":"ordinal","scale":{"domain":["G","P","A","I","L","V","F","W","Y","M","C","S","T","N","Q","H","K","R","D","E"],"paddingInner":0,"paddingOuter":0},"axis":null},"y2":{"field":"bot"}}},
{"mark":{"type":"rule","color":"black","strokeWidth":0.8},"encoding":{"x":{"datum":0.34,"type":"quantitative","scale":{"domain":[0,1]},"axis":null},"x2":{"datum":0.5},"y":{"field":"top","type":"ordinal","scale":{"domain":["G","P","A","I","L","V","F","W","Y","M","C","S","T","N","Q","H","K","R","D","E"],"paddingInner":0,"paddingOuter":0},"axis":null}}},
{"mark":{"type":"rule","color":"black","strokeWidth":0.8},"encoding":{"x":{"datum":0.34,"type":"quantitative","scale":{"domain":[0,1]},"axis":null},"x2":{"datum":0.5},"y":{"field":"bot","type":"ordinal","scale":{"domain":["G","P","A","I","L","V","F","W","Y","M","C","S","T","N","Q","H","K","R","D","E"],"paddingInner":0,"paddingOuter":0},"axis":null}}},
{"transform":[{"filter":"datum.g==='Hydrophobic'||datum.g==='-'"}],"mark":{"type":"text","angle":270,"baseline":"middle","align":"center","color":"black"},"encoding":{"x":{"datum":-0.09,"type":"quantitative","scale":{"domain":[0,1]},"axis":null},"y":{"field":"mid","type":"ordinal","bandPosition":0,"scale":{"domain":["G","P","A","I","L","V","F","W","Y","M","C","S","T","N","Q","H","K","R","D","E"],"paddingInner":0,"paddingOuter":0},"axis":null},"text":{"field":"g"},"size":{"condition":{"test":"length(datum.g)===1","value":12},"value":9}}},
{"transform":[{"filter":"datum.g==='Polar'||datum.g==='+'"}],"mark":{"type":"text","angle":270,"baseline":"middle","align":"center","color":"black"},"encoding":{"x":{"datum":-0.09,"type":"quantitative","scale":{"domain":[0,1]},"axis":null},"y":{"field":"mid","type":"ordinal","bandPosition":0.5,"scale":{"domain":["G","P","A","I","L","V","F","W","Y","M","C","S","T","N","Q","H","K","R","D","E"],"paddingInner":0,"paddingOuter":0},"axis":null},"text":{"field":"g"},"size":{"condition":{"test":"length(datum.g)===1","value":12},"value":9}}}
]},
{"width":250,"height":210,"view":{"stroke":"#8c8c8c","strokeWidth":1},
"data":{"name":"hc"},
"transform":[{"fold":["G","P","A","I","L","V","F","W","Y","M","C","S","T","N","Q","H","K","R","D","E"],"as":["aa","v"]}],
"encoding":{
"x":{"field":"site","type":"ordinal","scale":{"domain":["N300","N301","N302","T303","R304","K305","S306","I307","H308","I309","G312","P313","G314","R315","A316","F317","Y318","A319","T320","G320a","D321","I322","I323","G324"],"paddingInner":0,"paddingOuter":0},"axis":{"title":"HXB2 Env amino acid position","labelAngle":-45,"labelFontSize":5.5,"labelFontWeight":"bold","labelColor":"#222","ticks":false,"domain":false,"labelPadding":1,"titleFontSize":9,"titlePadding":1}},
"y":{"field":"aa","type":"ordinal","scale":{"domain":["G","P","A","I","L","V","F","W","Y","M","C","S","T","N","Q","H","K","R","D","E"],"paddingInner":0,"paddingOuter":0},"axis":{"title":null,"labelFontSize":6.5,"labelFontWeight":"bold","labelColor":"#222","ticks":false,"domain":false,"labelPadding":3}}
},
"layer":[
{"mark":{"type":"rect"},"encoding":{"color":{"field":"v","type":"quantitative","scale":{"domain":[-132,0,11],"range":["#5c0b0b","#ffffff","#3d66e3"],"interpolate":"lab"},"legend":{"title":"Scaled differential selection","titleOrient":"right","titleFontSize":9,"titleFontWeight":"normal","titleColor":"black","titleAnchor":"middle","titlePadding":2,"gradientLength":210,"gradientThickness":8,"values":[0,-50,-100],"labelFontSize":7,"labelOffset":3,"labelColor":"#4d4d4d","offset":12,"gradientStrokeWidth":0}}}},
{"transform":[{"filter":"datum.aa===datum.wt"}],"mark":{"type":"circle","size":10,"color":"black","opacity":1},"encoding":{}}
]}
],"spacing":0,"resolve":{"scale":{"x":"independent","y":"independent","color":"independent"}}},
{"title":{"text":"D","anchor":"start","fontSize":13,"fontWeight":"bold","offset":-6,"color":"black"},
"bounds":"flush",
"hconcat":[
{"width":22,"height":212,"data":{"name":"grp"},
"layer":[
{"mark":{"type":"rule","color":"black","strokeWidth":0.8},"encoding":{"x":{"datum":0.25,"type":"quantitative","scale":{"domain":[0,1]},"axis":null},"y":{"field":"top","type":"ordinal","scale":{"domain":["G","P","A","I","L","V","F","W","Y","M","C","S","T","N","Q","H","K","R","D","E"],"paddingInner":0,"paddingOuter":0},"axis":null},"y2":{"field":"bot"}}},
{"mark":{"type":"rule","color":"black","strokeWidth":0.8},"encoding":{"x":{"datum":0.25,"type":"quantitative","scale":{"domain":[0,1]},"axis":null},"x2":{"datum":0.43},"y":{"field":"top","type":"ordinal","scale":{"domain":["G","P","A","I","L","V","F","W","Y","M","C","S","T","N","Q","H","K","R","D","E"],"paddingInner":0,"paddingOuter":0},"axis":null}}},
{"mark":{"type":"rule","color":"black","strokeWidth":0.8},"encoding":{"x":{"datum":0.25,"type":"quantitative","scale":{"domain":[0,1]},"axis":null},"x2":{"datum":0.43},"y":{"field":"bot","type":"ordinal","scale":{"domain":["G","P","A","I","L","V","F","W","Y","M","C","S","T","N","Q","H","K","R","D","E"],"paddingInner":0,"paddingOuter":0},"axis":null}}},
{"transform":[{"filter":"datum.g==='Hydrophobic'||datum.g==='-'"}],"mark":{"type":"text","angle":270,"baseline":"middle","align":"center","color":"black"},"encoding":{"x":{"datum":-0.16,"type":"quantitative","scale":{"domain":[0,1]},"axis":null},"y":{"field":"mid","type":"ordinal","bandPosition":0,"scale":{"domain":["G","P","A","I","L","V","F","W","Y","M","C","S","T","N","Q","H","K","R","D","E"],"paddingInner":0,"paddingOuter":0},"axis":null},"text":{"field":"g"},"size":{"condition":{"test":"length(datum.g)===1","value":12},"value":9}}},
{"transform":[{"filter":"datum.g==='Polar'||datum.g==='+'"}],"mark":{"type":"text","angle":270,"baseline":"middle","align":"center","color":"black"},"encoding":{"x":{"datum":-0.16,"type":"quantitative","scale":{"domain":[0,1]},"axis":null},"y":{"field":"mid","type":"ordinal","bandPosition":0.5,"scale":{"domain":["G","P","A","I","L","V","F","W","Y","M","C","S","T","N","Q","H","K","R","D","E"],"paddingInner":0,"paddingOuter":0},"axis":null},"text":{"field":"g"},"size":{"condition":{"test":"length(datum.g)===1","value":12},"value":9}}}
]},
{"width":253,"height":212,"view":{"stroke":"black","strokeWidth":1.5},
"data":{"name":"hd"},
"transform":[{"fold":["G","P","A","I","L","V","F","W","Y","M","C","S","T","N","Q","H","K","R","D","E"],"as":["aa","v"]}],
"encoding":{
"x":{"field":"site","type":"ordinal","scale":{"domain":["N300","N301","N302","T303","R304","K305","S306","I307","H308","I309","G312","P313","G314","R315","A316","F317","Y318","A319","T320","G320a","D321","I322","I323","G324"],"paddingInner":0,"paddingOuter":0},"axis":{"title":"HXB2 Env amino acid position","labelAngle":-45,"labelFontSize":5.5,"labelFontWeight":"bold","labelColor":"#222","ticks":false,"domain":false,"labelPadding":1,"titleFontSize":9,"titlePadding":1}},
"y":{"field":"aa","type":"ordinal","scale":{"domain":["G","P","A","I","L","V","F","W","Y","M","C","S","T","N","Q","H","K","R","D","E"],"paddingInner":0,"paddingOuter":0},"axis":{"title":null,"labelFontSize":6.5,"labelFontWeight":"bold","labelColor":"#222","ticks":false,"domain":false,"labelPadding":3}}
},
"layer":[
{"mark":{"type":"rect"},"encoding":{"color":{"field":"v","type":"quantitative","scale":{"domain":[-82.5,0,5],"range":["#5c0b0b","#ffffff","#3d66e3"],"interpolate":"lab"},"legend":{"title":"Scaled differential selection","titleOrient":"right","titleFontSize":9,"titleFontWeight":"normal","titleColor":"black","titleAnchor":"middle","titlePadding":2,"gradientLength":212,"gradientThickness":8,"values":[0,-20,-40,-60,-80],"labelFontSize":7,"labelOffset":3,"labelColor":"#4d4d4d","offset":11,"gradientStrokeWidth":0}}}},
{"transform":[{"filter":"datum.aa===datum.wt"}],"mark":{"type":"circle","size":10,"color":"black","opacity":1},"encoding":{}}
]}
],"spacing":0,"resolve":{"scale":{"x":"independent","y":"independent","color":"independent"}}}
],"spacing":57,"resolve":{"scale":{"x":"independent","y":"independent","color":"independent"}}}
],
"columns":1,
"align":"none",
"spacing":3,
"resolve":{"scale":{"x":"independent","y":"independent","color":"independent"}}
}
